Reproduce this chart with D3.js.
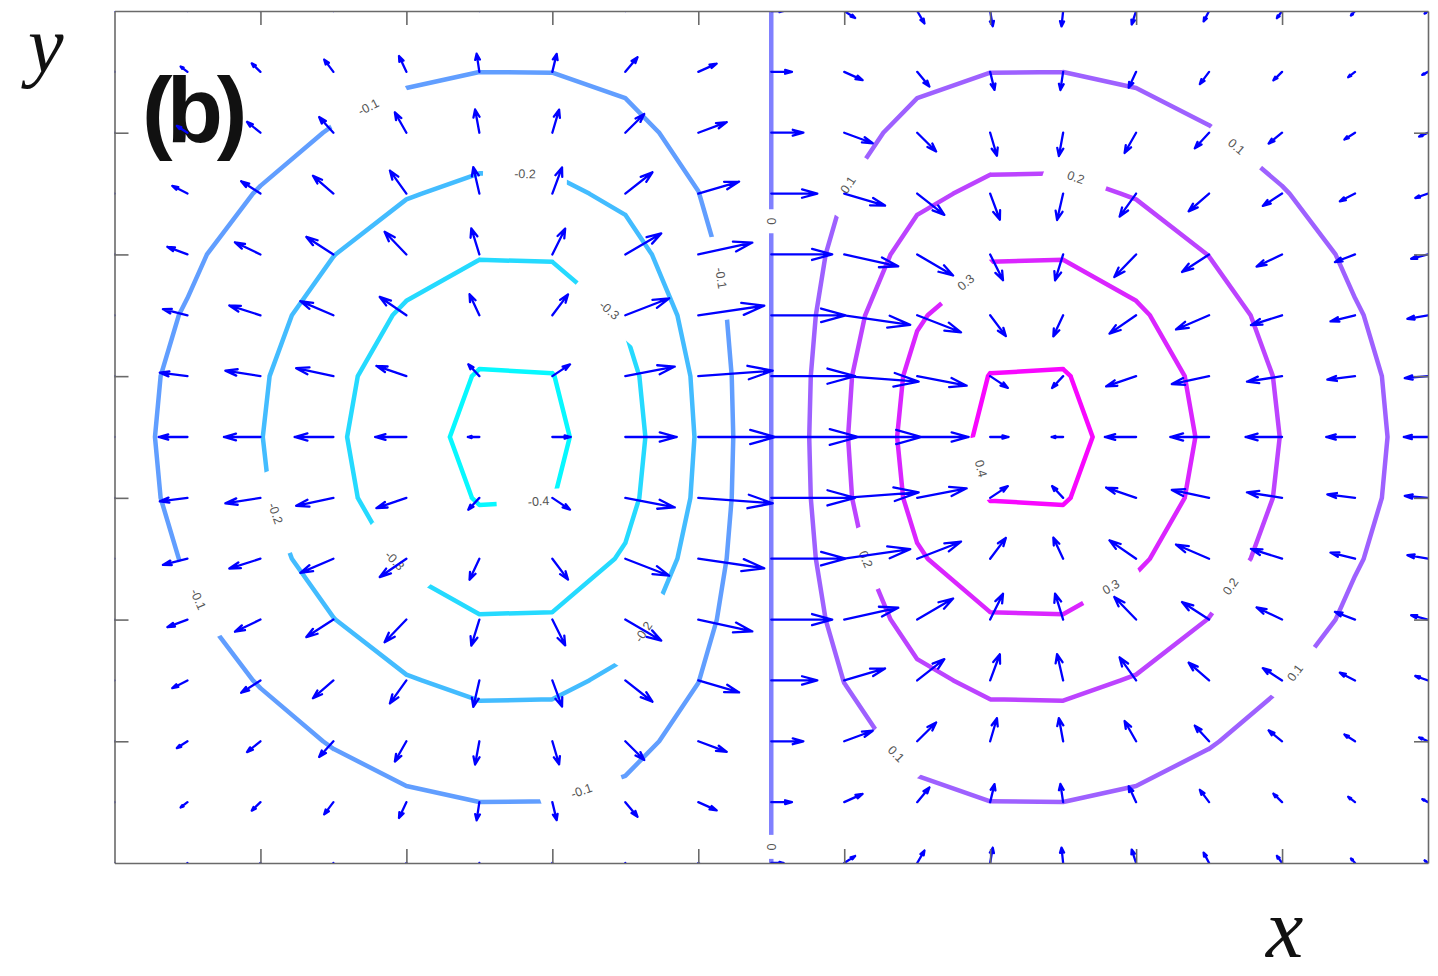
<!DOCTYPE html>
<html><head><meta charset="utf-8">
<script src="https://cdn.jsdelivr.net/npm/d3@7"></script>
<style>body{margin:0;background:#fff}</style>
</head><body>
<svg id="chart" width="1438" height="976"></svg>
<script>
// ---------------- data ----------------
const xValues = [-1.8,-1.6,-1.4,-1.2,-1.0,-0.8,-0.6,-0.4,-0.2,0,0.2,0.4,0.6,0.8,1.0,1.2,1.4,1.6,1.8];
const yValues = [1.4,1.2,1.0,0.8,0.6,0.4,0.2,0,-0.2,-0.4,-0.6,-0.8,-1.0,-1.2,-1.4];
// potential z on the grid, one row per yValues entry (top to bottom), one column per xValues entry
const zRows = [
 [-0.0099,-0.0174,-0.0278,-0.0400,-0.0518,-0.0594,-0.0590,-0.0480,-0.0271,0,0.0271,0.0480,0.0590,0.0594,0.0518,0.0400,0.0278,0.0174,0.0099],
 [-0.0167,-0.0293,-0.0467,-0.0674,-0.0872,-0.0999,-0.0992,-0.0808,-0.0455,0,0.0455,0.0808,0.0992,0.0999,0.0872,0.0674,0.0467,0.0293,0.0167],
 [-0.0259,-0.0455,-0.0725,-0.1046,-0.1353,-0.1552,-0.1540,-0.1254,-0.0707,0,0.0707,0.1254,0.1540,0.1552,0.1353,0.1046,0.0725,0.0455,0.0259],
 [-0.0372,-0.0652,-0.1040,-0.1499,-0.1940,-0.2224,-0.2207,-0.1797,-0.1013,0,0.1013,0.1797,0.2207,0.2224,0.1940,0.1499,0.1040,0.0652,0.0372],
 [-0.0492,-0.0863,-0.1376,-0.1984,-0.2567,-0.2943,-0.2921,-0.2378,-0.1341,0,0.1341,0.2378,0.2921,0.2943,0.2567,0.1984,0.1376,0.0863,0.0492],
 [-0.0601,-0.1054,-0.1680,-0.2423,-0.3135,-0.3595,-0.3567,-0.2905,-0.1637,0,0.1637,0.2905,0.3567,0.3595,0.3135,0.2423,0.1680,0.1054,0.0601],
 [-0.0677,-0.1188,-0.1895,-0.2732,-0.3535,-0.4053,-0.4022,-0.3275,-0.1846,0,0.1846,0.3275,0.4022,0.4053,0.3535,0.2732,0.1895,0.1188,0.0677],
 [-0.0705,-0.1237,-0.1972,-0.2843,-0.3679,-0.4218,-0.4186,-0.3409,-0.1922,0,0.1922,0.3409,0.4186,0.4218,0.3679,0.2843,0.1972,0.1237,0.0705],
 [-0.0677,-0.1188,-0.1895,-0.2732,-0.3535,-0.4053,-0.4022,-0.3275,-0.1846,0,0.1846,0.3275,0.4022,0.4053,0.3535,0.2732,0.1895,0.1188,0.0677],
 [-0.0601,-0.1054,-0.1680,-0.2423,-0.3135,-0.3595,-0.3567,-0.2905,-0.1637,0,0.1637,0.2905,0.3567,0.3595,0.3135,0.2423,0.1680,0.1054,0.0601],
 [-0.0492,-0.0863,-0.1376,-0.1984,-0.2567,-0.2943,-0.2921,-0.2378,-0.1341,0,0.1341,0.2378,0.2921,0.2943,0.2567,0.1984,0.1376,0.0863,0.0492],
 [-0.0372,-0.0652,-0.1040,-0.1499,-0.1940,-0.2224,-0.2207,-0.1797,-0.1013,0,0.1013,0.1797,0.2207,0.2224,0.1940,0.1499,0.1040,0.0652,0.0372],
 [-0.0259,-0.0455,-0.0725,-0.1046,-0.1353,-0.1552,-0.1540,-0.1254,-0.0707,0,0.0707,0.1254,0.1540,0.1552,0.1353,0.1046,0.0725,0.0455,0.0259],
 [-0.0167,-0.0293,-0.0467,-0.0674,-0.0872,-0.0999,-0.0992,-0.0808,-0.0455,0,0.0455,0.0808,0.0992,0.0999,0.0872,0.0674,0.0467,0.0293,0.0167],
 [-0.0099,-0.0174,-0.0278,-0.0400,-0.0518,-0.0594,-0.0590,-0.0480,-0.0271,0,0.0271,0.0480,0.0590,0.0594,0.0518,0.0400,0.0278,0.0174,0.0099]
];
const contourLevels = [-0.4,-0.3,-0.2,-0.1,0,0.1,0.2,0.3,0.4];
const xTickValues = [-1.4,-1.0,-0.6,-0.2,0.2,0.6,1.0,1.4];
const yTickValues = [-1.0,-0.6,-0.2,0.2,0.6,1.0];
// inline contour labels (level, approximate position in data units)
const labelLevels = [-0.1,-0.2,-0.3,-0.1,0,0,-0.2,-0.3,-0.4,-0.1,-0.2,-0.1,0.1,0.2,0.1,0.3,0.4,0.2,0.3,0.2,0.1,0.1];
const labelX = [-1.105,-0.675,-0.461,-0.160,0,0,-1.368,-1.036,-0.639,-1.585,-0.351,-0.519,0.216,0.832,1.274,0.531,0.564,0.257,0.934,1.263,1.436,0.334];
const labelY = [1.087,0.857,0.393,0.518,0.709,-1.347,-0.255,-0.410,-0.186,-0.541,-0.640,-1.166,0.824,0.844,0.953,0.512,-0.107,-0.403,-0.499,-0.495,-0.775,-1.051];
const panelTag = "(b)";
const xTitle = "x";
const yTitle = "y";

// ---------------- layout ----------------
const W = 1438, H = 976;
const svg = d3.select("#chart");
svg.append("rect").attr("width", W).attr("height", H).attr("fill", "#fff");

const x = d3.scaleLinear().domain(d3.extent(xValues)).range([114.5, 1428]);
const y = d3.scaleLinear().domain(d3.extent(yValues)).range([863, 11]);
const zExt = d3.extent(zRows.flat());
const color = d3.scaleLinear().domain(zExt).range(["#00ffff", "#ff00ff"]);

const nx = xValues.length, ny = yValues.length;

// marching squares -> line segments in pixel space
function segmentsFor(L) {
  const segs = [];
  const above = v => v >= L;
  const edges = [[0,1],[1,2],[2,3],[3,0]];
  for (let j = 0; j < ny - 1; j++) for (let i = 0; i < nx - 1; i++) {
    const corners = [[i,j],[i+1,j],[i+1,j+1],[i,j+1]];
    const vals = corners.map(([ci,cj]) => zRows[cj][ci]);
    const cross = edges.map(([p,q]) => {
      if (above(vals[p]) === above(vals[q])) return null;
      const t = (L - vals[p]) / (vals[q] - vals[p]);
      const [pi,pj] = corners[p], [qi,qj] = corners[q];
      const xd = xValues[pi] + t * (xValues[qi] - xValues[pi]);
      const yd = yValues[pj] + t * (yValues[qj] - yValues[pj]);
      return [x(xd), y(yd)];
    });
    const idx = cross.map((c,k) => c ? k : -1).filter(k => k >= 0);
    if (idx.length === 2) segs.push([cross[idx[0]], cross[idx[1]]]);
    else if (idx.length === 4) {
      const center = d3.mean(vals);
      if (above(center) === above(vals[0])) { segs.push([cross[0],cross[1]]); segs.push([cross[2],cross[3]]); }
      else { segs.push([cross[3],cross[0]]); segs.push([cross[1],cross[2]]); }
    }
  }
  return segs;
}

const levelSegs = contourLevels.map(segmentsFor);

// labels snapped on their contour
const labels = labelLevels.map((L, n) => {
  const k = contourLevels.indexOf(L);
  const px = x(labelX[n]), py = y(labelY[n]);
  let best = null, bd = Infinity;
  levelSegs[k].forEach(([a,b]) => {
    const dx = b[0]-a[0], dy = b[1]-a[1];
    const l2 = dx*dx + dy*dy || 1e-9;
    let t = ((px-a[0])*dx + (py-a[1])*dy) / l2;
    t = Math.max(0, Math.min(1, t));
    const qx = a[0] + t*dx, qy = a[1] + t*dy;
    const d = (qx-px)**2 + (qy-py)**2;
    if (d < bd) { bd = d; best = {qx, qy, ang: Math.atan2(dy, dx) * 180 / Math.PI}; }
  });
  let ang = best.ang;
  while (ang > 90) ang -= 180;
  while (ang <= -90) ang += 180;
  const text = String(L);
  return {k, text, px: best.qx, py: best.qy, ang, gap: text.length * 20 + 4};
});

const defs = svg.append("defs");
defs.append("clipPath").attr("id", "plotClip").append("rect")
  .attr("x", x(-1.8)).attr("y", y(1.4)).attr("width", x(1.8) - x(-1.8)).attr("height", y(-1.4) - y(1.4));

contourLevels.forEach((L, k) => {
  const m = defs.append("mask").attr("id", "gap" + k).attr("maskUnits", "userSpaceOnUse")
    .attr("x", 0).attr("y", 0).attr("width", W).attr("height", H);
  m.append("rect").attr("width", W).attr("height", H).attr("fill", "white");
  labels.filter(l => l.k === k).forEach(l => {
    m.append("rect").attr("x", -l.gap/2).attr("y", -12).attr("width", l.gap).attr("height", 24)
      .attr("fill", "black").attr("transform", `translate(${l.px},${l.py}) rotate(${l.ang})`);
  });
});

// contour lines
const gC = svg.append("g").attr("clip-path", "url(#plotClip)");
contourLevels.forEach((L, k) => {
  const d = levelSegs[k].map(([a,b]) => `M${a[0]},${a[1]}L${b[0]},${b[1]}`).join("");
  gC.append("path").attr("d", d).attr("fill", "none").attr("stroke", color(L))
    .attr("stroke-width", 4.5).attr("stroke-linecap", "round").attr("stroke-linejoin", "round")
    .attr("mask", `url(#gap${k})`);
});

// contour labels
svg.append("g").selectAll("text").data(labels).join("text")
  .attr("transform", d => `translate(${d.px},${d.py}) rotate(${d.ang})`)
  .attr("text-anchor", "middle").attr("dominant-baseline", "central")
  .attr("font-family", "Liberation Sans, Arial, sans-serif").attr("font-size", 12.5)
  .attr("fill", "#555").text(d => d.text);

// panel tag
svg.append("text").attr("x", 142).attr("y", 142)
  .attr("font-family", "Liberation Sans, Arial, sans-serif").attr("font-weight", "bold")
  .attr("font-size", 92).attr("letter-spacing", -6).attr("fill", "#111").text(panelTag);

// quiver: gradient of z (central differences, one-sided at the edges) with MATLAB-style autoscale
const U = [], V = [];
for (let j = 0; j < ny; j++) {
  U.push([]); V.push([]);
  for (let i = 0; i < nx; i++) {
    const i0 = Math.max(0, i-1), i1 = Math.min(nx-1, i+1);
    const j0 = Math.max(0, j-1), j1 = Math.min(ny-1, j+1);
    U[j].push((zRows[j][i1] - zRows[j][i0]) / (xValues[i1] - xValues[i0]));
    V[j].push((zRows[j1][i] - zRows[j0][i]) / (yValues[j1] - yValues[j0]));
  }
}
const delx = (d3.max(xValues) - d3.min(xValues)) / nx;
const dely = (d3.max(yValues) - d3.min(yValues)) / ny;
const del = delx*delx + dely*dely;
let maxlen = 0;
for (let j = 0; j < ny; j++) for (let i = 0; i < nx; i++)
  maxlen = Math.max(maxlen, Math.sqrt((U[j][i]**2 + V[j][i]**2) / del));
const sc = 0.9 / maxlen;
const alpha = 0.33, beta = 0.33;
const arrows = [];
for (let j = 0; j < ny; j++) for (let i = 0; i < nx; i++) {
  const x0 = xValues[i], y0 = yValues[j];
  const u = U[j][i] * sc, v = V[j][i] * sc;
  const tx = x0 + u, ty = y0 + v;
  const h1 = [tx - alpha*(u + beta*v), ty - alpha*(v - beta*u)];
  const h2 = [tx - alpha*(u - beta*v), ty - alpha*(v + beta*u)];
  arrows.push(`M${x(x0)},${y(y0)}L${x(tx)},${y(ty)}M${x(h1[0])},${y(h1[1])}L${x(tx)},${y(ty)}L${x(h2[0])},${y(h2[1])}`);
}
svg.append("g").attr("clip-path", "url(#plotClip)").append("path")
  .attr("d", arrows.join("")).attr("fill", "none").attr("stroke", "#0000ff")
  .attr("stroke-width", 2.3).attr("stroke-linecap", "round").attr("stroke-linejoin", "round");

// axes box with inward ticks
const gA = svg.append("g");
const styleAxis = g => { g.selectAll("text").remove(); g.selectAll("path,line").attr("stroke", "#6a6a6a").attr("stroke-width", 1.6); };
gA.append("g").attr("transform", `translate(0,${y(-1.4)})`)
  .call(d3.axisBottom(x).tickValues(xTickValues).tickSize(-14).tickSizeOuter(0).tickFormat("")).call(styleAxis);
gA.append("g").attr("transform", `translate(0,${y(1.4)})`)
  .call(d3.axisTop(x).tickValues(xTickValues).tickSize(-14).tickSizeOuter(0).tickFormat("")).call(styleAxis);
gA.append("g").attr("transform", `translate(${x(-1.8)},0)`)
  .call(d3.axisLeft(y).tickValues(yTickValues).tickSize(-14).tickSizeOuter(0).tickFormat("")).call(styleAxis);
gA.append("g").attr("transform", `translate(${x(1.8)},0)`)
  .call(d3.axisRight(y).tickValues(yTickValues).tickSize(-14).tickSizeOuter(0).tickFormat("")).call(styleAxis);

// axis titles
svg.append("text").attr("x", 28).attr("y", 72)
  .attr("font-family", "Liberation Serif, Times New Roman, serif").attr("font-style", "italic")
  .attr("font-size", 80).attr("fill", "#111").text(yTitle);
svg.append("text").attr("x", 1266).attr("y", 957)
  .attr("font-family", "Liberation Serif, Times New Roman, serif").attr("font-style", "italic")
  .attr("font-size", 84).attr("fill", "#111").text(xTitle);
</script>
</body></html>
